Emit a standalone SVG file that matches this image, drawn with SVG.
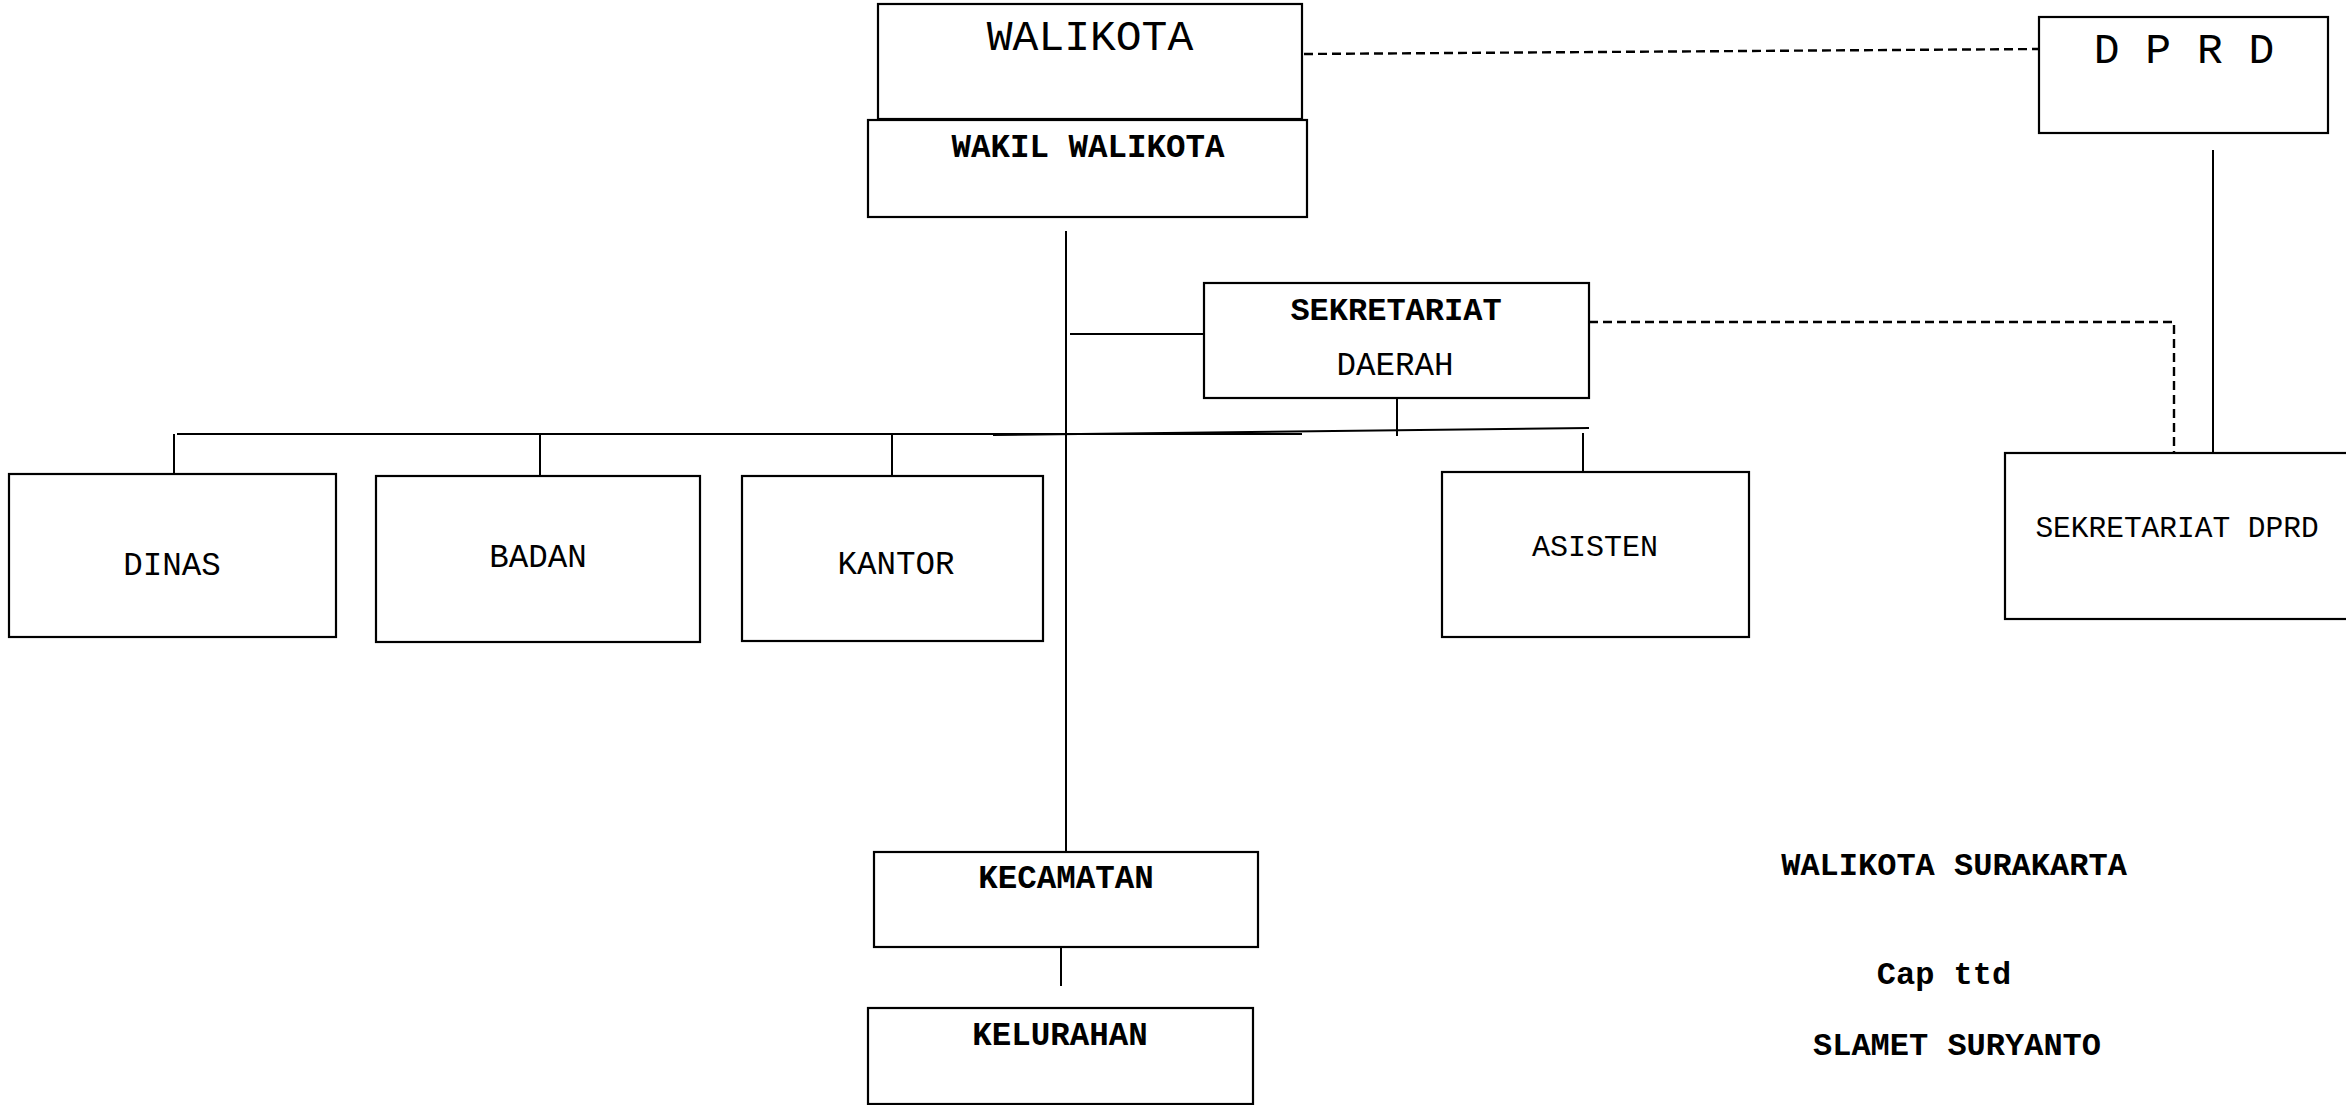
<svg xmlns="http://www.w3.org/2000/svg" width="2346" height="1105" viewBox="0 0 2346 1105">
  <style>
    .box { fill: #fff; stroke: #000; stroke-width: 2.2; }
    .t { font-family: "Liberation Mono", "Courier New", monospace; fill: #000; text-anchor: middle; }
    .b { font-weight: bold; }
    .line { stroke: #000; stroke-width: 2; fill: none; }
    .dash { stroke: #000; stroke-width: 2.4; fill: none; stroke-dasharray: 9 5; }
  </style>
  <rect width="2346" height="1105" fill="#fff"/>

  <!-- connectors -->
  <g id="connectors">
    <line class="dash" x1="1304" y1="54" x2="2039" y2="49"/>
    <polyline class="dash" points="1589,322 2174,322 2174,453"/>
    <line class="line" x1="2213" y1="150" x2="2213" y2="458"/>
    <line class="line" x1="1066" y1="231" x2="1066" y2="861"/>
    <line class="line" x1="1070" y1="334" x2="1204" y2="334"/>
    <line class="line" x1="1397" y1="398" x2="1397" y2="436"/>
    <line class="line" x1="177" y1="434" x2="1302" y2="434"/>
    <line class="line" x1="993" y1="435" x2="1589" y2="428"/>
    <line class="line" x1="174" y1="434" x2="174" y2="474"/>
    <line class="line" x1="540" y1="434" x2="540" y2="476"/>
    <line class="line" x1="892" y1="434" x2="892" y2="476"/>
    <line class="line" x1="1583" y1="433" x2="1583" y2="472"/>
    <line class="line" x1="1061" y1="947" x2="1061" y2="986"/>
  </g>

  <g id="walikota">
    <rect class="box" x="878" y="4" width="424" height="115"/>
    <text class="t" x="1090" y="50" font-size="43">WALIKOTA</text>
  </g>

  <g id="wakil-walikota">
    <rect class="box" x="868" y="120" width="439" height="97"/>
    <text class="t b" x="1088" y="157" font-size="32.5">WAKIL WALIKOTA</text>
  </g>

  <g id="dprd">
    <rect class="box" x="2039" y="17" width="289" height="116"/>
    <text class="t" x="2184" y="63" font-size="43">D P R D</text>
  </g>

  <g id="sekretariat-daerah">
    <rect class="box" x="1204" y="283" width="385" height="115"/>
    <text class="t b" x="1396" y="320" font-size="32">SEKRETARIAT</text>
    <text class="t" x="1395" y="375" font-size="32.5">DAERAH</text>
  </g>

  <g id="sekretariat-dprd">
    <rect class="box" x="2005" y="453" width="350" height="166"/>
    <text class="t" x="2177" y="537" font-size="29.5">SEKRETARIAT DPRD</text>
  </g>

  <g id="dinas">
    <rect class="box" x="9" y="474" width="327" height="163"/>
    <text class="t" x="172" y="575" font-size="32.5">DINAS</text>
  </g>

  <g id="badan">
    <rect class="box" x="376" y="476" width="324" height="166"/>
    <text class="t" x="538" y="567" font-size="32.5">BADAN</text>
  </g>

  <g id="kantor">
    <rect class="box" x="742" y="476" width="301" height="165"/>
    <text class="t" x="896" y="574" font-size="32.5">KANTOR</text>
  </g>

  <g id="asisten">
    <rect class="box" x="1442" y="472" width="307" height="165"/>
    <text class="t" x="1595" y="556" font-size="30">ASISTEN</text>
  </g>

  <g id="kecamatan">
    <rect class="box" x="874" y="852" width="384" height="95"/>
    <text class="t b" x="1066" y="888" font-size="32.5">KECAMATAN</text>
  </g>

  <g id="kelurahan">
    <rect class="box" x="868" y="1008" width="385" height="96"/>
    <text class="t b" x="1060" y="1045" font-size="32.5">KELURAHAN</text>
  </g>

  <g id="signature">
    <text class="t b" x="1954" y="875" font-size="32">WALIKOTA SURAKARTA</text>
    <text class="t b" x="1944" y="984" font-size="32">Cap ttd</text>
    <text class="t b" x="1957" y="1055" font-size="32">SLAMET SURYANTO</text>
  </g>
</svg>
